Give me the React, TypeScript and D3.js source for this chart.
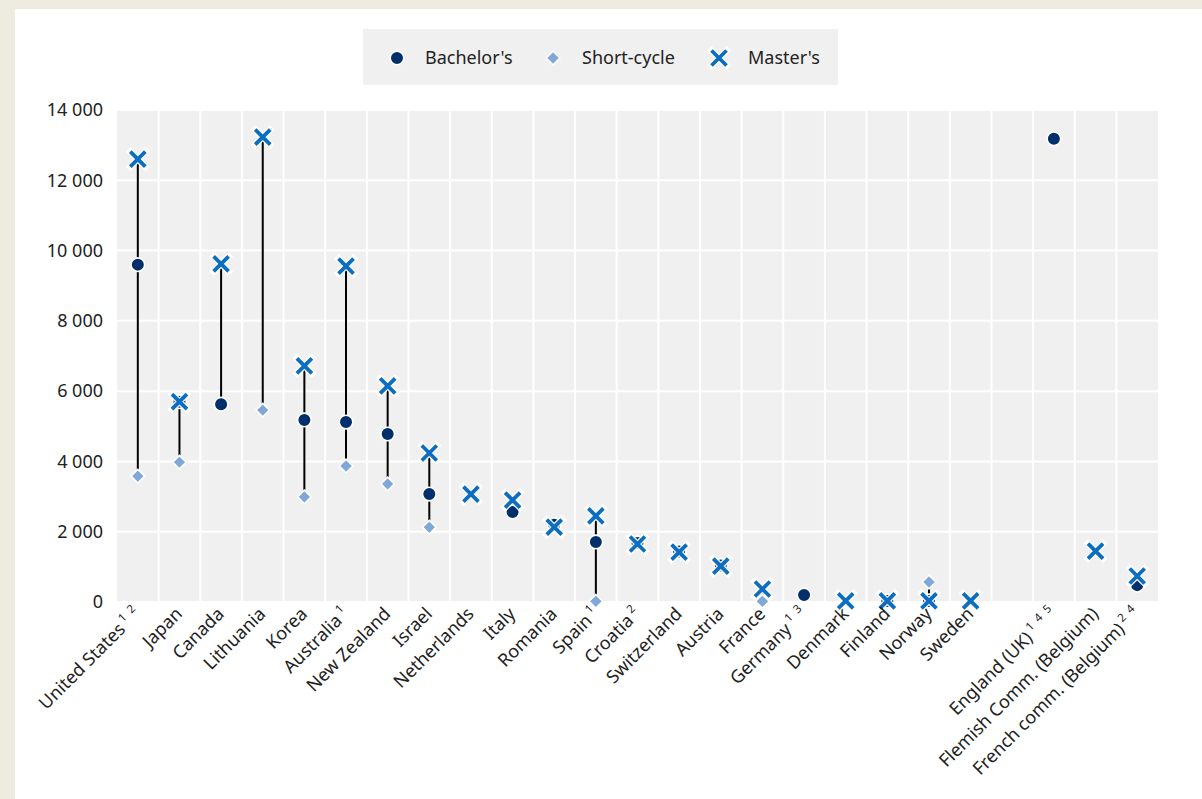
import React from "react";
import * as d3 from "d3";

const categories = [
  "United States", "Japan", "Canada", "Lithuania", "Korea", "Australia", "New Zealand", "Israel",
  "Netherlands", "Italy", "Romania", "Spain", "Croatia", "Switzerland", "Austria", "France",
  "Germany", "Denmark", "Finland", "Norway", "Sweden", " ", "England (UK)",
  "Flemish Comm. (Belgium)", "French comm. (Belgium)",
];
const notes = [
  "1 2", "", "", "", "", "1", "", "", "", "", "", "1", "2", "", "", "", "1 3", "", "", "", "", "", "1 4 5", "", "2 4",
];
const bachelors: (number | null)[] = [
  9600, 5700, 5630, null, 5180, 5120, 4780, 3070, null, 2560, 2200, 1710, 1680, 1440, 1040, null,
  200, null, 30, 30, null, null, 13180, null, 480,
];
const shortCycle: (number | null)[] = [
  3580, 3980, null, 5460, 2990, 3870, 3360, 2130, null, null, null, 20, null, null, null, 20,
  null, null, null, 570, null, null, null, null, null,
];
const masters: (number | null)[] = [
  12600, 5700, 9620, 13230, 6720, 9560, 6150, 4240, 3070, 2900, 2130, 2450, 1650, 1420, 1020, 370,
  null, 30, 30, 30, 30, null, null, 1450, 740,
];
const yTicks = [0, 2000, 4000, 6000, 8000, 10000, 12000, 14000];
const seriesNames = ["Bachelor's", "Short-cycle", "Master's"];

const C_BACH = "#002F6C";
const C_SHORT = "#7FA8D9";
const C_MAST = "#0B6EC0";
const FONT = "'Noto Sans', 'Open Sans', sans-serif";

const W = 1202, H = 799;
const plot = { left: 117, right: 1158, top: 110, bottom: 602 };

function Circle({ x, y }: { x: number; y: number }) {
  return <circle cx={x} cy={y} r={6.8} fill={C_BACH} stroke="#fff" strokeWidth={1.6} />;
}
function Diamond({ x, y }: { x: number; y: number }) {
  const s = 6.8;
  return (
    <path d={`M${x},${y - s}L${x + s},${y}L${x},${y + s}L${x - s},${y}Z`} fill={C_SHORT} stroke="#fff" strokeWidth={1.6} />
  );
}
function Cross({ x, y }: { x: number; y: number }) {
  const s = 7.5;
  const d = `M${x - s},${y - s}L${x + s},${y + s}M${x - s},${y + s}L${x + s},${y - s}`;
  return (
    <g>
      <path d={d} stroke="#fff" strokeWidth={6.5} strokeLinecap="square" fill="none" opacity={0.9} />
      <path d={d} stroke={C_MAST} strokeWidth={3.8} fill="none" />
    </g>
  );
}

export default function App() {
  const x = d3.scaleBand<string>().domain(categories).range([plot.left, plot.right]).padding(0);
  const y = d3.scaleLinear().domain([0, 14000]).range([plot.bottom, plot.top]);
  const bw = x.bandwidth();
  const fmt = (v: number) => d3.format(",")(v).replace(/,/g, " ");

  return (
    <svg width={W} height={H} style={{ position: "absolute", left: 0, top: 0, fontFamily: FONT }}>
      <rect x={0} y={0} width={W} height={H} fill="#EEECE1" />
      <rect x={15} y={9} width={W - 15} height={H - 9} fill="#fff" />

      {/* legend */}
      <rect x={363} y={29} width={475} height={56} fill="#F0F0F0" />
      <Circle x={397} y={58} />
      <text x={425} y={58} dy="0.35em" fontSize={18} fill="#222">{seriesNames[0]}</text>
      <Diamond x={553} y={58} />
      <text x={582} y={58} dy="0.35em" fontSize={18} fill="#222">{seriesNames[1]}</text>
      <Cross x={719} y={58} />
      <text x={748} y={58} dy="0.35em" fontSize={18} fill="#222">{seriesNames[2]}</text>

      {/* plot background & grid */}
      <rect x={plot.left} y={plot.top} width={plot.right - plot.left} height={plot.bottom - plot.top} fill="#F0F0F0" />
      {yTicks.map((t) => (
        <line key={"h" + t} x1={plot.left} x2={plot.right} y1={y(t)} y2={y(t)} stroke="#fff" strokeWidth={2} />
      ))}
      {categories.slice(1).map((c) => (
        <line key={"v" + c} x1={x(c)!} x2={x(c)!} y1={plot.top} y2={plot.bottom} stroke="#fff" strokeWidth={2} />
      ))}
      {yTicks.map((t) => (
        <text key={"yl" + t} x={103} y={y(t)} dy="0.35em" textAnchor="end" fontSize={18} fill="#222">{fmt(t)}</text>
      ))}

      {/* range lines */}
      {categories.map((c, i) => {
        const vals = [bachelors[i], shortCycle[i], masters[i]].filter((v) => v != null) as number[];
        if (vals.length < 2) return null;
        const cx = x(c)! + bw / 2;
        return (
          <line key={"r" + i} x1={cx} x2={cx} y1={y(d3.max(vals)!)} y2={y(d3.min(vals)!)} stroke="#000" strokeWidth={2} />
        );
      })}

      {categories.map((c, i) => {
        const cx = x(c)! + bw / 2;
        return (
          <g key={"m" + i}>
            {bachelors[i] != null && <Circle x={cx} y={y(bachelors[i]!)} />}
            {shortCycle[i] != null && <Diamond x={cx} y={y(shortCycle[i]!)} />}
            {masters[i] != null && <Cross x={cx} y={y(masters[i]!)} />}
          </g>
        );
      })}

      {/* x labels */}
      {categories.map((c, i) => {
        const cx = x(c)! + bw / 2;
        if (!c.trim()) return null;
        return (
          <text key={"xl" + i} transform={`translate(${cx + 4},${plot.bottom + 13}) rotate(-45)`} textAnchor="end" fontSize={18} fill="#222">
            {c}
            {notes[i] ? (
              <tspan fontSize={11.5} dy={-8}>{" " + notes[i].split(" ").join("\u2002")}</tspan>
            ) : null}
          </text>
        );
      })}
    </svg>
  );
}
